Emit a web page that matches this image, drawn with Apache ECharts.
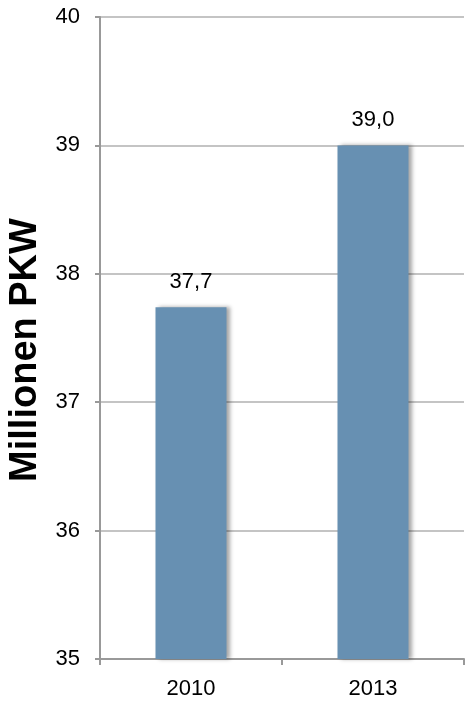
<!DOCTYPE html>
<html>
<head>
<meta charset="utf-8">
<script src="https://cdn.jsdelivr.net/npm/echarts@6/dist/echarts.min.js"></script>
<style>
html,body{margin:0;padding:0;background:#fff;}
#c{width:466px;height:703px;}
</style>
</head>
<body>
<div id="c"></div>
<script>
var categories = ['2010', '2013'];
var values = [37.74, 39.0];
var labelValues = [37.7, 39.0];
var yTicks = [35, 36, 37, 38, 39, 40];
var yAxisName = 'Millionen PKW';

var chart = echarts.init(document.getElementById('c'));
var font = '"Liberation Sans", Arial, sans-serif';
chart.setOption({
  animation: false,
  grid: {left: 100, right: 2, top: 17, bottom: 44, outerBoundsMode: 'none', containLabel: false},
  xAxis: {
    type: 'category',
    data: categories,
    axisLine: {lineStyle: {color: '#999', width: 2}},
    axisTick: {show: true, length: 6, alignWithLabel: false, lineStyle: {color: '#999', width: 2}},
    axisLabel: {color: '#000', fontSize: 22, fontFamily: font, margin: 19}
  },
  yAxis: {
    type: 'value',
    min: yTicks[0],
    max: yTicks[yTicks.length - 1],
    interval: 1,
    name: yAxisName,
    nameLocation: 'middle',
    nameGap: 54,
    nameRotate: 90,
    nameTextStyle: {color: '#000', fontSize: 38, fontWeight: 'bold', fontFamily: font, padding: [0, 24, 0, 0]},
    axisLine: {show: true, lineStyle: {color: '#999', width: 2}},
    axisTick: {show: true, length: 5, lineStyle: {color: '#999', width: 2}},
    axisLabel: {color: '#000', fontSize: 22, fontFamily: font, margin: 20},
    splitLine: {show: true, lineStyle: {color: '#c4c4c4', width: 2}}
  },
  series: [{
    type: 'bar',
    data: values,
    barWidth: 71,
    itemStyle: {
      color: '#6790b2',
      shadowColor: 'rgba(0,0,0,0.35)',
      shadowBlur: 4,
      shadowOffsetX: 3,
      shadowOffsetY: 0
    },
    label: {
      show: true,
      position: 'top',
      distance: 14,
      color: '#000',
      fontSize: 22,
      fontFamily: font,
      formatter: function (p) {
        return labelValues[p.dataIndex].toFixed(1).replace('.', ',');
      }
    }
  }]
});
</script>
</body>
</html>
